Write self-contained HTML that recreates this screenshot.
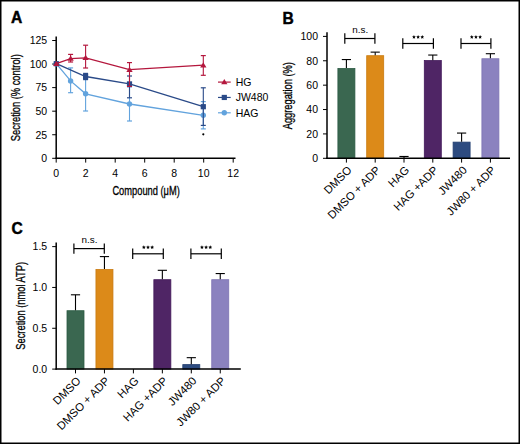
<!DOCTYPE html><html><head><meta charset="utf-8"><style>html,body{margin:0;padding:0;background:#fff;overflow:hidden;}svg{display:block;}text{font-family:"Liberation Sans", sans-serif;}</style></head><body>
<svg width="520" height="444" viewBox="0 0 520 444">
<rect x="0" y="0" width="520" height="444" fill="#fff"/>
<rect x="0.75" y="0.75" width="518.5" height="442.5" fill="none" stroke="#000" stroke-width="1.5"/>
<text x="10.90" y="22.60" font-size="15.6" text-anchor="start" font-weight="bold" fill="#000" stroke="#000" stroke-width="0.45">A</text>
<line x1="56.20" y1="36.50" x2="56.20" y2="158.90" stroke="#000" stroke-width="1.5"/>
<line x1="55.50" y1="158.30" x2="235.50" y2="158.30" stroke="#000" stroke-width="1.5"/>
<line x1="52.20" y1="158.30" x2="56.20" y2="158.30" stroke="#000" stroke-width="1"/>
<text x="47.20" y="162.10" font-size="10.5" text-anchor="end" font-weight="normal" fill="#000" >0</text>
<line x1="52.20" y1="134.74" x2="56.20" y2="134.74" stroke="#000" stroke-width="1"/>
<text x="47.20" y="138.54" font-size="10.5" text-anchor="end" font-weight="normal" fill="#000" >25</text>
<line x1="52.20" y1="111.18" x2="56.20" y2="111.18" stroke="#000" stroke-width="1"/>
<text x="47.20" y="114.98" font-size="10.5" text-anchor="end" font-weight="normal" fill="#000" >50</text>
<line x1="52.20" y1="87.62" x2="56.20" y2="87.62" stroke="#000" stroke-width="1"/>
<text x="47.20" y="91.42" font-size="10.5" text-anchor="end" font-weight="normal" fill="#000" >75</text>
<line x1="52.20" y1="64.06" x2="56.20" y2="64.06" stroke="#000" stroke-width="1"/>
<text x="47.20" y="67.86" font-size="10.5" text-anchor="end" font-weight="normal" fill="#000" >100</text>
<line x1="52.20" y1="40.50" x2="56.20" y2="40.50" stroke="#000" stroke-width="1"/>
<text x="47.20" y="44.30" font-size="10.5" text-anchor="end" font-weight="normal" fill="#000" >125</text>
<line x1="56.20" y1="158.30" x2="56.20" y2="162.60" stroke="#000" stroke-width="1"/>
<text x="56.20" y="176.80" font-size="10.5" text-anchor="middle" font-weight="normal" fill="#000" >0</text>
<line x1="85.70" y1="158.30" x2="85.70" y2="162.60" stroke="#000" stroke-width="1"/>
<text x="85.70" y="176.80" font-size="10.5" text-anchor="middle" font-weight="normal" fill="#000" >2</text>
<line x1="115.20" y1="158.30" x2="115.20" y2="162.60" stroke="#000" stroke-width="1"/>
<text x="115.20" y="176.80" font-size="10.5" text-anchor="middle" font-weight="normal" fill="#000" >4</text>
<line x1="144.70" y1="158.30" x2="144.70" y2="162.60" stroke="#000" stroke-width="1"/>
<text x="144.70" y="176.80" font-size="10.5" text-anchor="middle" font-weight="normal" fill="#000" >6</text>
<line x1="174.20" y1="158.30" x2="174.20" y2="162.60" stroke="#000" stroke-width="1"/>
<text x="174.20" y="176.80" font-size="10.5" text-anchor="middle" font-weight="normal" fill="#000" >8</text>
<line x1="203.70" y1="158.30" x2="203.70" y2="162.60" stroke="#000" stroke-width="1"/>
<text x="203.70" y="176.80" font-size="10.5" text-anchor="middle" font-weight="normal" fill="#000" >10</text>
<line x1="233.20" y1="158.30" x2="233.20" y2="162.60" stroke="#000" stroke-width="1"/>
<text x="233.20" y="176.80" font-size="10.5" text-anchor="middle" font-weight="normal" fill="#000" >12</text>
<text transform="translate(19.9,97.7) rotate(-90) scale(0.745,1)" stroke="#000" stroke-width="0.3" font-size="12.5" text-anchor="middle">Secretion (% control)</text>
<text transform="translate(146.1,194.6) scale(0.745,1)" stroke="#000" stroke-width="0.3" font-size="12.5" text-anchor="middle">Compound (μM)</text>
<polyline points="56.30,63.70 70.60,80.90 85.60,93.80 129.50,104.00 203.30,115.30" fill="none" stroke="#62a3dd" stroke-width="1.3"/>
<line x1="70.60" y1="67.90" x2="70.60" y2="92.70" stroke="#62a3dd" stroke-width="1.1"/>
<line x1="68.10" y1="67.90" x2="73.10" y2="67.90" stroke="#62a3dd" stroke-width="1.2"/>
<line x1="68.10" y1="92.70" x2="73.10" y2="92.70" stroke="#62a3dd" stroke-width="1.2"/>
<line x1="85.60" y1="76.60" x2="85.60" y2="111.00" stroke="#62a3dd" stroke-width="1.1"/>
<line x1="83.10" y1="76.60" x2="88.10" y2="76.60" stroke="#62a3dd" stroke-width="1.2"/>
<line x1="83.10" y1="111.00" x2="88.10" y2="111.00" stroke="#62a3dd" stroke-width="1.2"/>
<line x1="129.50" y1="87.00" x2="129.50" y2="121.00" stroke="#62a3dd" stroke-width="1.1"/>
<line x1="127.00" y1="87.00" x2="132.00" y2="87.00" stroke="#62a3dd" stroke-width="1.2"/>
<line x1="127.00" y1="121.00" x2="132.00" y2="121.00" stroke="#62a3dd" stroke-width="1.2"/>
<line x1="203.30" y1="101.60" x2="203.30" y2="128.90" stroke="#62a3dd" stroke-width="1.1"/>
<line x1="200.80" y1="101.60" x2="205.80" y2="101.60" stroke="#62a3dd" stroke-width="1.2"/>
<line x1="200.80" y1="128.90" x2="205.80" y2="128.90" stroke="#62a3dd" stroke-width="1.2"/>
<circle cx="56.30" cy="63.70" r="2.7" fill="#62a3dd"/>
<circle cx="70.60" cy="80.90" r="2.7" fill="#62a3dd"/>
<circle cx="85.60" cy="93.80" r="2.7" fill="#62a3dd"/>
<circle cx="129.50" cy="104.00" r="2.7" fill="#62a3dd"/>
<circle cx="203.30" cy="115.30" r="2.7" fill="#62a3dd"/>
<polyline points="56.30,63.70 85.60,76.50 129.50,83.90 203.30,106.70" fill="none" stroke="#2a4a88" stroke-width="1.3"/>
<line x1="85.60" y1="73.40" x2="85.60" y2="79.60" stroke="#2a4a88" stroke-width="1.1"/>
<line x1="83.10" y1="73.40" x2="88.10" y2="73.40" stroke="#2a4a88" stroke-width="1.2"/>
<line x1="83.10" y1="79.60" x2="88.10" y2="79.60" stroke="#2a4a88" stroke-width="1.2"/>
<line x1="129.50" y1="76.00" x2="129.50" y2="97.80" stroke="#2a4a88" stroke-width="1.1"/>
<line x1="127.00" y1="76.00" x2="132.00" y2="76.00" stroke="#2a4a88" stroke-width="1.2"/>
<line x1="127.00" y1="97.80" x2="132.00" y2="97.80" stroke="#2a4a88" stroke-width="1.2"/>
<line x1="203.30" y1="87.80" x2="203.30" y2="125.40" stroke="#2a4a88" stroke-width="1.1"/>
<line x1="200.80" y1="87.80" x2="205.80" y2="87.80" stroke="#2a4a88" stroke-width="1.2"/>
<line x1="200.80" y1="125.40" x2="205.80" y2="125.40" stroke="#2a4a88" stroke-width="1.2"/>
<rect x="53.70" y="61.10" width="5.20" height="5.20" fill="#2a4a88"/>
<rect x="83.00" y="73.90" width="5.20" height="5.20" fill="#2a4a88"/>
<rect x="126.90" y="81.30" width="5.20" height="5.20" fill="#2a4a88"/>
<rect x="200.70" y="104.10" width="5.20" height="5.20" fill="#2a4a88"/>
<polyline points="56.30,63.70 70.60,58.60 85.60,57.80 129.50,69.70 203.30,65.20" fill="none" stroke="#b4173d" stroke-width="1.3"/>
<line x1="70.60" y1="54.40" x2="70.60" y2="62.00" stroke="#b4173d" stroke-width="1.1"/>
<line x1="68.10" y1="54.40" x2="73.10" y2="54.40" stroke="#b4173d" stroke-width="1.2"/>
<line x1="68.10" y1="62.00" x2="73.10" y2="62.00" stroke="#b4173d" stroke-width="1.2"/>
<line x1="85.60" y1="45.20" x2="85.60" y2="68.00" stroke="#b4173d" stroke-width="1.1"/>
<line x1="83.10" y1="45.20" x2="88.10" y2="45.20" stroke="#b4173d" stroke-width="1.2"/>
<line x1="83.10" y1="68.00" x2="88.10" y2="68.00" stroke="#b4173d" stroke-width="1.2"/>
<line x1="129.50" y1="62.60" x2="129.50" y2="86.40" stroke="#b4173d" stroke-width="1.1"/>
<line x1="127.00" y1="62.60" x2="132.00" y2="62.60" stroke="#b4173d" stroke-width="1.2"/>
<line x1="127.00" y1="86.40" x2="132.00" y2="86.40" stroke="#b4173d" stroke-width="1.2"/>
<line x1="203.30" y1="55.60" x2="203.30" y2="75.30" stroke="#b4173d" stroke-width="1.1"/>
<line x1="200.80" y1="55.60" x2="205.80" y2="55.60" stroke="#b4173d" stroke-width="1.2"/>
<line x1="200.80" y1="75.30" x2="205.80" y2="75.30" stroke="#b4173d" stroke-width="1.2"/>
<polygon points="56.30,60.70 59.45,65.95 53.15,65.95" fill="#b4173d"/>
<polygon points="70.60,55.60 73.75,60.85 67.45,60.85" fill="#b4173d"/>
<polygon points="85.60,54.80 88.75,60.05 82.45,60.05" fill="#b4173d"/>
<polygon points="129.50,66.70 132.65,71.95 126.35,71.95" fill="#b4173d"/>
<polygon points="203.30,62.20 206.45,67.45 200.15,67.45" fill="#b4173d"/>
<circle cx="203.30" cy="134.3" r="1.1" fill="#000"/>
<line x1="218.00" y1="82.10" x2="230.70" y2="82.10" stroke="#b4173d" stroke-width="1.2"/>
<polygon points="224.30,79.10 227.45,84.35 221.15,84.35" fill="#b4173d"/>
<text x="235.70" y="85.90" font-size="10.5" text-anchor="start" font-weight="normal" fill="#000" >HG</text>
<line x1="218.00" y1="97.45" x2="230.70" y2="97.45" stroke="#2a4a88" stroke-width="1.2"/>
<rect x="221.70" y="94.85" width="5.20" height="5.20" fill="#2a4a88"/>
<text x="235.70" y="101.25" font-size="10.5" text-anchor="start" font-weight="normal" fill="#000" >JW480</text>
<line x1="218.00" y1="112.80" x2="230.70" y2="112.80" stroke="#62a3dd" stroke-width="1.2"/>
<circle cx="224.30" cy="112.80" r="2.7" fill="#62a3dd"/>
<text x="235.70" y="116.60" font-size="10.5" text-anchor="start" font-weight="normal" fill="#000" >HAG</text>
<text x="282.40" y="23.80" font-size="15.6" text-anchor="start" font-weight="bold" fill="#000" stroke="#000" stroke-width="0.45">B</text>
<rect x="337.90" y="68.49" width="17.0" height="89.81" fill="#3a6750" stroke="#2b5a43" stroke-width="0.8"/>
<line x1="346.40" y1="68.09" x2="346.40" y2="59.56" stroke="#000" stroke-width="1.1"/>
<line x1="341.80" y1="59.56" x2="351.00" y2="59.56" stroke="#000" stroke-width="1.1"/>
<rect x="366.70" y="55.69" width="17.0" height="102.61" fill="#dc8a19" stroke="#c97a10" stroke-width="0.8"/>
<line x1="375.20" y1="55.29" x2="375.20" y2="52.13" stroke="#000" stroke-width="1.1"/>
<line x1="370.60" y1="52.13" x2="379.80" y2="52.13" stroke="#000" stroke-width="1.1"/>
<line x1="404.00" y1="157.93" x2="404.00" y2="156.47" stroke="#000" stroke-width="1.1"/>
<line x1="399.40" y1="156.47" x2="408.60" y2="156.47" stroke="#000" stroke-width="1.1"/>
<rect x="424.30" y="60.57" width="17.0" height="97.73" fill="#4f2565" stroke="#42185a" stroke-width="0.8"/>
<line x1="432.80" y1="60.17" x2="432.80" y2="55.05" stroke="#000" stroke-width="1.1"/>
<line x1="428.20" y1="55.05" x2="437.40" y2="55.05" stroke="#000" stroke-width="1.1"/>
<rect x="453.10" y="142.12" width="17.0" height="16.18" fill="#2d4b80" stroke="#223e70" stroke-width="0.8"/>
<line x1="461.60" y1="141.72" x2="461.60" y2="133.07" stroke="#000" stroke-width="1.1"/>
<line x1="457.00" y1="133.07" x2="466.20" y2="133.07" stroke="#000" stroke-width="1.1"/>
<rect x="481.90" y="58.74" width="17.0" height="99.56" fill="#8b82bf" stroke="#7d73b3" stroke-width="0.8"/>
<line x1="490.40" y1="58.34" x2="490.40" y2="53.71" stroke="#000" stroke-width="1.1"/>
<line x1="485.80" y1="53.71" x2="495.00" y2="53.71" stroke="#000" stroke-width="1.1"/>
<line x1="327.00" y1="32.30" x2="327.00" y2="158.90" stroke="#000" stroke-width="1.5"/>
<line x1="326.30" y1="158.30" x2="510.00" y2="158.30" stroke="#000" stroke-width="1.5"/>
<line x1="323.00" y1="158.30" x2="327.00" y2="158.30" stroke="#000" stroke-width="1"/>
<text x="318.00" y="162.10" font-size="10.5" text-anchor="end" font-weight="normal" fill="#000" >0</text>
<line x1="323.00" y1="133.92" x2="327.00" y2="133.92" stroke="#000" stroke-width="1"/>
<text x="318.00" y="137.72" font-size="10.5" text-anchor="end" font-weight="normal" fill="#000" >20</text>
<line x1="323.00" y1="109.54" x2="327.00" y2="109.54" stroke="#000" stroke-width="1"/>
<text x="318.00" y="113.34" font-size="10.5" text-anchor="end" font-weight="normal" fill="#000" >40</text>
<line x1="323.00" y1="85.16" x2="327.00" y2="85.16" stroke="#000" stroke-width="1"/>
<text x="318.00" y="88.96" font-size="10.5" text-anchor="end" font-weight="normal" fill="#000" >60</text>
<line x1="323.00" y1="60.78" x2="327.00" y2="60.78" stroke="#000" stroke-width="1"/>
<text x="318.00" y="64.58" font-size="10.5" text-anchor="end" font-weight="normal" fill="#000" >80</text>
<line x1="323.00" y1="36.40" x2="327.00" y2="36.40" stroke="#000" stroke-width="1"/>
<text x="318.00" y="40.20" font-size="10.5" text-anchor="end" font-weight="normal" fill="#000" >100</text>
<line x1="346.40" y1="158.30" x2="346.40" y2="162.60" stroke="#000" stroke-width="1"/>
<text transform="translate(352.40,170.80) rotate(-45)" font-size="11.3" text-anchor="end">DMSO</text>
<line x1="375.20" y1="158.30" x2="375.20" y2="162.60" stroke="#000" stroke-width="1"/>
<text transform="translate(381.20,170.80) rotate(-45)" font-size="11.3" text-anchor="end">DMSO + ADP</text>
<line x1="404.00" y1="158.30" x2="404.00" y2="162.60" stroke="#000" stroke-width="1"/>
<text transform="translate(410.00,170.80) rotate(-45)" font-size="11.3" text-anchor="end">HAG</text>
<line x1="432.80" y1="158.30" x2="432.80" y2="162.60" stroke="#000" stroke-width="1"/>
<text transform="translate(438.80,170.80) rotate(-45)" font-size="11.3" text-anchor="end">HAG +ADP</text>
<line x1="461.60" y1="158.30" x2="461.60" y2="162.60" stroke="#000" stroke-width="1"/>
<text transform="translate(467.60,170.80) rotate(-45)" font-size="11.3" text-anchor="end">JW480</text>
<line x1="490.40" y1="158.30" x2="490.40" y2="162.60" stroke="#000" stroke-width="1"/>
<text transform="translate(496.40,170.80) rotate(-45)" font-size="11.3" text-anchor="end">JW80 + ADP</text>
<line x1="344.80" y1="38.50" x2="374.90" y2="38.50" stroke="#000" stroke-width="1.2"/>
<line x1="344.80" y1="33.30" x2="344.80" y2="43.70" stroke="#000" stroke-width="1.2"/>
<line x1="374.90" y1="33.30" x2="374.90" y2="43.70" stroke="#000" stroke-width="1.2"/>
<text x="360.25" y="33.10" font-size="9.9" text-anchor="middle" font-weight="normal" fill="#000" >n.s.</text>
<line x1="402.80" y1="43.50" x2="433.40" y2="43.50" stroke="#000" stroke-width="1.2"/>
<line x1="402.80" y1="38.30" x2="402.80" y2="48.70" stroke="#000" stroke-width="1.2"/>
<line x1="433.40" y1="38.30" x2="433.40" y2="48.70" stroke="#000" stroke-width="1.2"/>
<polygon points="413.95,35.05 414.51,36.28 415.85,36.43 414.85,37.34 415.13,38.67 413.95,38.00 412.77,38.67 413.05,37.34 412.05,36.43 413.39,36.28" fill="#000"/>
<polygon points="418.10,35.05 418.66,36.28 420.00,36.43 419.00,37.34 419.28,38.67 418.10,38.00 416.92,38.67 417.20,37.34 416.20,36.43 417.54,36.28" fill="#000"/>
<polygon points="422.25,35.05 422.81,36.28 424.15,36.43 423.15,37.34 423.43,38.67 422.25,38.00 421.07,38.67 421.35,37.34 420.35,36.43 421.69,36.28" fill="#000"/>
<line x1="461.00" y1="43.50" x2="490.90" y2="43.50" stroke="#000" stroke-width="1.2"/>
<line x1="461.00" y1="38.30" x2="461.00" y2="48.70" stroke="#000" stroke-width="1.2"/>
<line x1="490.90" y1="38.30" x2="490.90" y2="48.70" stroke="#000" stroke-width="1.2"/>
<polygon points="471.80,35.05 472.36,36.28 473.70,36.43 472.70,37.34 472.98,38.67 471.80,38.00 470.62,38.67 470.90,37.34 469.90,36.43 471.24,36.28" fill="#000"/>
<polygon points="475.95,35.05 476.51,36.28 477.85,36.43 476.85,37.34 477.13,38.67 475.95,38.00 474.77,38.67 475.05,37.34 474.05,36.43 475.39,36.28" fill="#000"/>
<polygon points="480.10,35.05 480.66,36.28 482.00,36.43 481.00,37.34 481.28,38.67 480.10,38.00 478.92,38.67 479.20,37.34 478.20,36.43 479.54,36.28" fill="#000"/>
<text transform="translate(291.5,95.7) rotate(-90) scale(0.745,1)" stroke="#000" stroke-width="0.3" font-size="12.5" text-anchor="middle">Aggregation (%)</text>
<text x="11.50" y="233.80" font-size="15.6" text-anchor="start" font-weight="bold" fill="#000" stroke="#000" stroke-width="0.45">C</text>
<rect x="67.00" y="310.71" width="17.0" height="58.39" fill="#3a6750" stroke="#2b5a43" stroke-width="0.8"/>
<line x1="75.50" y1="310.31" x2="75.50" y2="294.80" stroke="#000" stroke-width="1.1"/>
<line x1="70.90" y1="294.80" x2="80.10" y2="294.80" stroke="#000" stroke-width="1.1"/>
<rect x="95.95" y="269.48" width="17.0" height="99.62" fill="#dc8a19" stroke="#c97a10" stroke-width="0.8"/>
<line x1="104.45" y1="269.08" x2="104.45" y2="256.59" stroke="#000" stroke-width="1.1"/>
<line x1="99.85" y1="256.59" x2="109.05" y2="256.59" stroke="#000" stroke-width="1.1"/>
<rect x="153.85" y="279.69" width="17.0" height="89.41" fill="#4f2565" stroke="#42185a" stroke-width="0.8"/>
<line x1="162.35" y1="279.29" x2="162.35" y2="270.30" stroke="#000" stroke-width="1.1"/>
<line x1="157.75" y1="270.30" x2="166.95" y2="270.30" stroke="#000" stroke-width="1.1"/>
<rect x="182.80" y="364.60" width="17.0" height="4.50" fill="#2d4b80" stroke="#223e70" stroke-width="0.8"/>
<line x1="191.30" y1="364.20" x2="191.30" y2="357.67" stroke="#000" stroke-width="1.1"/>
<line x1="186.70" y1="357.67" x2="195.90" y2="357.67" stroke="#000" stroke-width="1.1"/>
<rect x="211.75" y="279.69" width="17.0" height="89.41" fill="#8b82bf" stroke="#7d73b3" stroke-width="0.8"/>
<line x1="220.25" y1="279.29" x2="220.25" y2="273.57" stroke="#000" stroke-width="1.1"/>
<line x1="215.65" y1="273.57" x2="224.85" y2="273.57" stroke="#000" stroke-width="1.1"/>
<line x1="56.20" y1="242.50" x2="56.20" y2="369.70" stroke="#000" stroke-width="1.5"/>
<line x1="55.50" y1="369.10" x2="240.80" y2="369.10" stroke="#000" stroke-width="1.5"/>
<line x1="52.20" y1="369.10" x2="56.20" y2="369.10" stroke="#000" stroke-width="1"/>
<text x="47.20" y="372.90" font-size="10.5" text-anchor="end" font-weight="normal" fill="#000" >0.0</text>
<line x1="52.20" y1="328.28" x2="56.20" y2="328.28" stroke="#000" stroke-width="1"/>
<text x="47.20" y="332.08" font-size="10.5" text-anchor="end" font-weight="normal" fill="#000" >0.5</text>
<line x1="52.20" y1="287.45" x2="56.20" y2="287.45" stroke="#000" stroke-width="1"/>
<text x="47.20" y="291.25" font-size="10.5" text-anchor="end" font-weight="normal" fill="#000" >1.0</text>
<line x1="52.20" y1="246.62" x2="56.20" y2="246.62" stroke="#000" stroke-width="1"/>
<text x="47.20" y="250.43" font-size="10.5" text-anchor="end" font-weight="normal" fill="#000" >1.5</text>
<line x1="75.50" y1="369.10" x2="75.50" y2="373.40" stroke="#000" stroke-width="1"/>
<text transform="translate(81.50,381.60) rotate(-45)" font-size="11.3" text-anchor="end">DMSO</text>
<line x1="104.45" y1="369.10" x2="104.45" y2="373.40" stroke="#000" stroke-width="1"/>
<text transform="translate(110.45,381.60) rotate(-45)" font-size="11.3" text-anchor="end">DMSO + ADP</text>
<line x1="133.40" y1="369.10" x2="133.40" y2="373.40" stroke="#000" stroke-width="1"/>
<text transform="translate(139.40,381.60) rotate(-45)" font-size="11.3" text-anchor="end">HAG</text>
<line x1="162.35" y1="369.10" x2="162.35" y2="373.40" stroke="#000" stroke-width="1"/>
<text transform="translate(168.35,381.60) rotate(-45)" font-size="11.3" text-anchor="end">HAG +ADP</text>
<line x1="191.30" y1="369.10" x2="191.30" y2="373.40" stroke="#000" stroke-width="1"/>
<text transform="translate(197.30,381.60) rotate(-45)" font-size="11.3" text-anchor="end">JW480</text>
<line x1="220.25" y1="369.10" x2="220.25" y2="373.40" stroke="#000" stroke-width="1"/>
<text transform="translate(226.25,381.60) rotate(-45)" font-size="11.3" text-anchor="end">JW80 + ADP</text>
<line x1="73.90" y1="248.60" x2="104.30" y2="248.60" stroke="#000" stroke-width="1.2"/>
<line x1="73.90" y1="243.40" x2="73.90" y2="253.80" stroke="#000" stroke-width="1.2"/>
<line x1="104.30" y1="243.40" x2="104.30" y2="253.80" stroke="#000" stroke-width="1.2"/>
<text x="89.50" y="243.20" font-size="9.9" text-anchor="middle" font-weight="normal" fill="#000" >n.s.</text>
<line x1="132.70" y1="253.80" x2="163.30" y2="253.80" stroke="#000" stroke-width="1.2"/>
<line x1="132.70" y1="248.60" x2="132.70" y2="259.00" stroke="#000" stroke-width="1.2"/>
<line x1="163.30" y1="248.60" x2="163.30" y2="259.00" stroke="#000" stroke-width="1.2"/>
<polygon points="143.85,245.35 144.41,246.58 145.75,246.73 144.75,247.64 145.03,248.97 143.85,248.30 142.67,248.97 142.95,247.64 141.95,246.73 143.29,246.58" fill="#000"/>
<polygon points="148.00,245.35 148.56,246.58 149.90,246.73 148.90,247.64 149.18,248.97 148.00,248.30 146.82,248.97 147.10,247.64 146.10,246.73 147.44,246.58" fill="#000"/>
<polygon points="152.15,245.35 152.71,246.58 154.05,246.73 153.05,247.64 153.33,248.97 152.15,248.30 150.97,248.97 151.25,247.64 150.25,246.73 151.59,246.58" fill="#000"/>
<line x1="190.90" y1="253.80" x2="221.30" y2="253.80" stroke="#000" stroke-width="1.2"/>
<line x1="190.90" y1="248.60" x2="190.90" y2="259.00" stroke="#000" stroke-width="1.2"/>
<line x1="221.30" y1="248.60" x2="221.30" y2="259.00" stroke="#000" stroke-width="1.2"/>
<polygon points="201.95,245.35 202.51,246.58 203.85,246.73 202.85,247.64 203.13,248.97 201.95,248.30 200.77,248.97 201.05,247.64 200.05,246.73 201.39,246.58" fill="#000"/>
<polygon points="206.10,245.35 206.66,246.58 208.00,246.73 207.00,247.64 207.28,248.97 206.10,248.30 204.92,248.97 205.20,247.64 204.20,246.73 205.54,246.58" fill="#000"/>
<polygon points="210.25,245.35 210.81,246.58 212.15,246.73 211.15,247.64 211.43,248.97 210.25,248.30 209.07,248.97 209.35,247.64 208.35,246.73 209.69,246.58" fill="#000"/>
<text transform="translate(25,305.8) rotate(-90) scale(0.745,1)" stroke="#000" stroke-width="0.3" font-size="12.5" text-anchor="middle">Secretion (nmol ATP)</text>
</svg></body></html>
